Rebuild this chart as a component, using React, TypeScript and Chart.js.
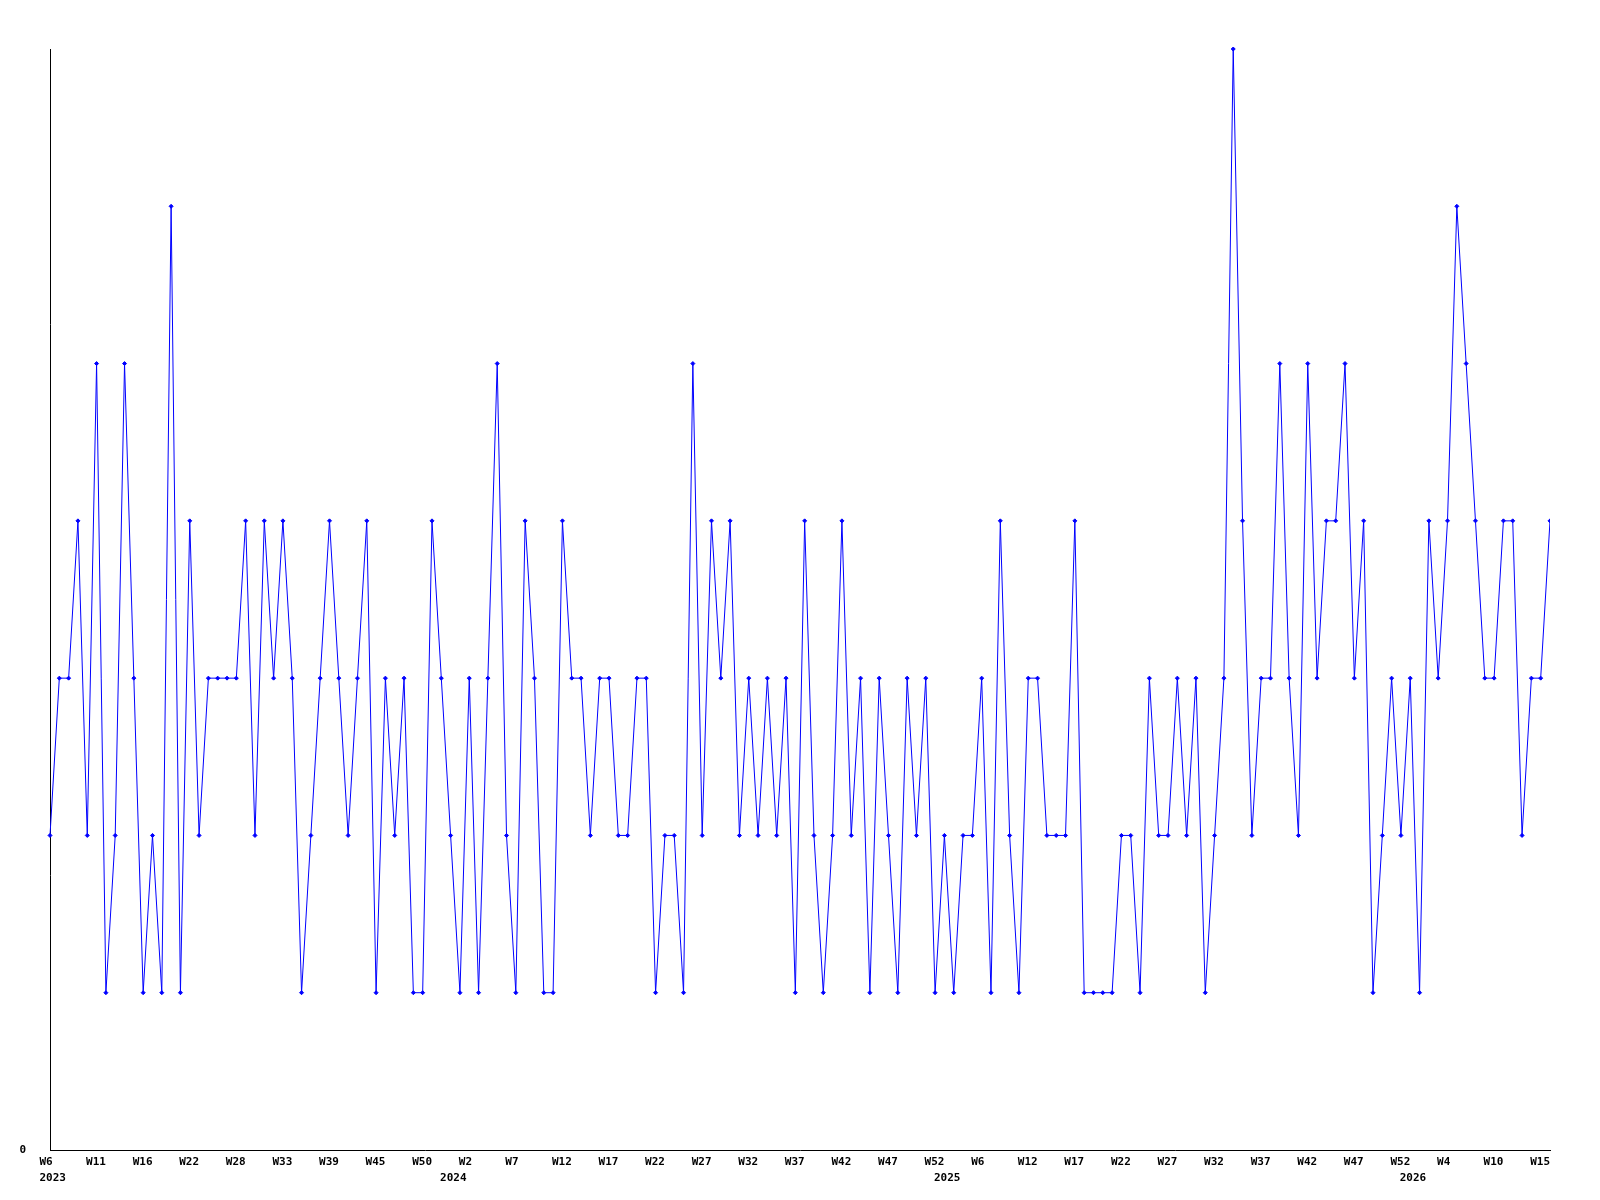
import React, { useEffect, useRef } from 'react';
import { Chart, registerables } from 'chart.js';

Chart.register(...registerables);

// Weekly values (one per point, in order)
const values: number[] = [
  2, 3, 3, 4, 2, 5, 1, 2, 5, 3, 1, 2, 1, 6, 1, 4, 2,
  3, 3, 3, 3, 4, 2, 4, 3, 4, 3, 1, 2, 3, 4, 3, 2, 3,
  4, 1, 3, 2, 3, 1, 1, 4, 3, 2, 1, 3, 1, 3, 5, 2, 1,
  4, 3, 1, 1, 4, 3, 3, 2, 3, 3, 2, 2, 3, 3, 1, 2,
  2, 1, 5, 2, 4, 3, 4, 2, 3, 2, 3, 2, 3, 1, 4, 2, 1,
  2, 4, 2, 3, 1, 3, 2, 1, 3, 2, 3, 1, 2, 1, 2, 2,
  3, 1, 4, 2, 1, 3, 3, 2, 2, 2, 4, 1, 1, 1, 1, 2, 2,
  1, 3, 2, 2, 3, 2, 3, 1, 2, 3, 7, 4, 2, 3, 3, 5,
  3,
  2, 5, 3, 4, 4, 5, 3, 4, 1, 2, 3, 2, 3, 1, 4, 3,
  4, 6, 5, 4, 3, 3, 4, 4, 2, 3, 3, 4,
];

// Week tick labels, one every `weekTickStep` points
const weekTickLabels: string[] = [
  'W6', 'W11', 'W16', 'W22', 'W28', 'W33', 'W39', 'W45', 'W50',
  'W2', 'W7', 'W12', 'W17', 'W22', 'W27', 'W32', 'W37', 'W42', 'W47', 'W52',
  'W6', 'W12', 'W17', 'W22', 'W27', 'W32', 'W37', 'W42', 'W47', 'W52',
  'W4', 'W10', 'W15',
];
const weekTickStep = 5;

// Year labels and the point index where each year starts
const yearLabels: string[] = ['2023', '2024', '2025', '2026'];
const yearStartIndex: number[] = [0, 43, 96, 146];

const yMin = 0;
const yMax = 7;

export default function App() {
  const ref = useRef<HTMLCanvasElement>(null);

  useEffect(() => {
    const tickMap = new Map<number, string[]>();
    weekTickLabels.forEach((w, i) => tickMap.set(i * weekTickStep, [w, '']));
    yearStartIndex.forEach((idx, i) => {
      const cur = tickMap.get(idx);
      if (cur) cur[1] = yearLabels[i];
      else tickMap.set(idx, ['', yearLabels[i]]);
    });
    const tickValues = [...tickMap.keys()].sort((a, b) => a - b);

    const font = { family: "'DejaVu Sans Mono', monospace", size: 11, weight: 'bold' as const, lineHeight: '16px' };

    const chart = new Chart(ref.current!, {
      type: 'line',
      data: {
        datasets: [
          {
            data: values.map((v, i) => ({ x: i, y: v })),
            borderColor: '#0000ff',
            borderWidth: 1,
            pointStyle: 'rectRot',
            pointRadius: 2,
            pointBackgroundColor: '#0000ff',
            pointBorderColor: '#0000ff',
            pointBorderWidth: 1,
            tension: 0,
            fill: false,
            clip: { left: 5, top: false, right: 0, bottom: 5 },
          },
        ],
      },
      options: {
        responsive: false,
        animation: false,
        events: [],
        layout: { padding: { top: 49, right: 50, left: 0, bottom: 0 } },
        plugins: { legend: { display: false }, tooltip: { enabled: false } },
        scales: {
          x: {
            type: 'linear',
            bounds: 'data',
            min: 0,
            max: values.length - 1,
            grid: { display: false, drawTicks: false },
            border: { display: true, color: '#000000', width: 1 },
            afterBuildTicks: (s: any) => {
              s.ticks = tickValues.map((v) => ({ value: v }));
            },
            afterFit: (s: any) => {
              s.height = 50;
            },
            ticks: {
              autoSkip: false,
              maxRotation: 0,
              minRotation: 0,
              align: 'start',
              labelOffset: -10.5,
              padding: 4,
              color: '#000000',
              font,
              callback: (v: any) => tickMap.get(v as number) ?? '',
            },
          },
          y: {
            min: yMin,
            max: yMax,
            grid: { display: false, drawTicks: false },
            border: { display: true, color: '#000000', width: 1 },
            afterFit: (s: any) => {
              s.width = 50;
            },
            ticks: {
              stepSize: 1,
              padding: 24,
              color: '#000000',
              font,
              callback: (v: any) => (v === 0 ? '0' : ''),
            },
          },
        },
      },
    } as any);
    return () => chart.destroy();
  }, []);

  return (
    <canvas
      ref={ref}
      width={1600}
      height={1200}
      style={{ position: 'absolute', left: 0, top: 0, background: '#ffffff' }}
    />
  );
}
